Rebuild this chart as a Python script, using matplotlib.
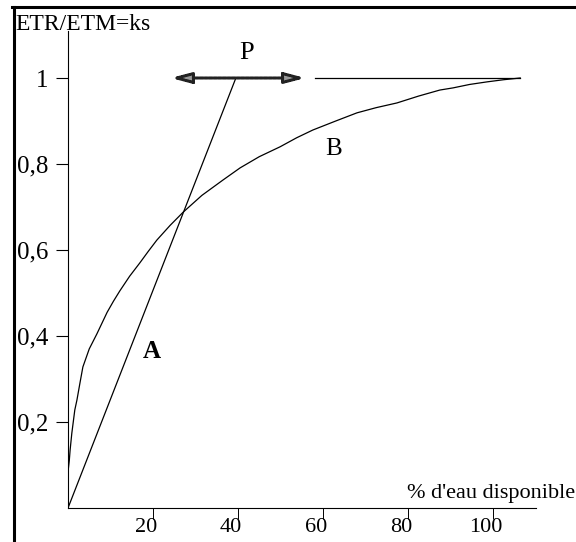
import matplotlib
matplotlib.use("Agg")
import matplotlib.pyplot as plt
from matplotlib.lines import Line2D
from matplotlib.transforms import ScaledTranslation

# courbe B
b_x = [0, 0.3, 0.5, 0.9, 1.6, 2.1, 2.8, 3.5, 5, 6.8, 8, 9.2, 10.7, 12.2, 14.5,
       16.9, 18.9, 20.9, 24, 27.1, 31.5, 36.5, 40.5, 45, 49.9, 53.8, 57.6, 63,
       68, 72.5, 77.4, 82.5, 87.5, 90.6, 94.5, 98.6, 102.5, 106.4]
b_y = [0.084, 0.11, 0.135, 0.174, 0.228, 0.251, 0.29, 0.328, 0.37, 0.405,
       0.43, 0.455, 0.481, 0.505, 0.539, 0.57, 0.597, 0.623, 0.657, 0.688,
       0.727, 0.763, 0.791, 0.817, 0.84, 0.861, 0.879, 0.9, 0.919, 0.931,
       0.942, 0.958, 0.972, 0.977, 0.985, 0.991, 0.996, 1.0]

# droite A
a_x = [0, 39.5]
a_y = [0, 1.0]

# palier ks = 1
pal_x = [58.1, 106.4]
pal_y = [1.0, 1.0]

# fleche P
p_gauche = 24.2
p_droite = 55.8
p_niveau = 1.0

x_ticks = [20, 40, 60, 80, 100]
x_labels = ["20", "40", "60", "80", "100"]
y_ticks = [0.2, 0.4, 0.6, 0.8, 1.0]
y_labels = ["0,2", "0,4", "0,6", "0,8", "1"]

plt.rcParams['font.family'] = ['Liberation Serif', 'DejaVu Serif']

fig = plt.figure(figsize=(5.76, 5.42), dpi=100)
ax = fig.add_axes([68 / 576, 34 / 542, 467.5 / 576, 477.3 / 542])

ax.plot(b_x, b_y, color="black", lw=0.9)
ax.plot(a_x, a_y, color="black", lw=0.9)
ax.plot(pal_x, pal_y, color="black", lw=0.9)

ax.annotate("", xy=(p_gauche, p_niveau), xytext=(p_droite, p_niveau),
            arrowprops=dict(arrowstyle="<|-|>,head_length=1.2,head_width=0.32",
                            lw=2.2, ls=(0, (1, 0.5)), color="#222222",
                            fc="#999999", shrinkA=0, shrinkB=0))

ax.set_xlim(0, 110)
ax.set_ylim(0, 1.11)

for s in ["top", "right"]:
    ax.spines[s].set_visible(False)
for s in ["left", "bottom"]:
    ax.spines[s].set_linewidth(0.8)

ax.set_xticks(x_ticks)
ax.set_xticklabels(x_labels, fontsize=16)
ax.set_yticks(y_ticks)
ax.set_yticklabels(y_labels, fontsize=18)
ax.tick_params(axis="x", direction="out", length=8, width=0.7, pad=-1)
ax.tick_params(axis="y", direction="out", length=9, width=0.8, pad=5)
# les etiquettes de l'axe x sont decalees vers la gauche
decal = ScaledTranslation(-7 / 100, 0, fig.dpi_scale_trans)
for lab in ax.get_xticklabels():
    lab.set_transform(lab.get_transform() + decal)
# la graduation 0,6 est plus pale
ax.yaxis.get_major_ticks()[2].tick1line.set_color("#bbbbbb")

ax.text(42.1, 1.058, "P", fontsize=19, ha="center", va="center")
ax.text(62.4, 0.835, "B", fontsize=18, ha="center", va="center")
ax.text(19.8, 0.363, "A", fontsize=18, fontweight="bold", ha="center", va="center")
ax.text(119.3, 0.012, "% d'eau disponible", fontsize=16, ha="right", va="bottom",
        clip_on=False)

fig.text(15 / 576, 1 - 30 / 542, "ETR/ETM=ks", fontsize=17, ha="left", va="baseline")

# cadre
fig.add_artist(Line2D([13.5 / 576, 13.5 / 576], [0, 1 - 6.5 / 542],
                      transform=fig.transFigure, color="black", lw=2.2))
fig.add_artist(Line2D([12 / 576, 1], [1 - 6.5 / 542, 1 - 6.5 / 542],
                      transform=fig.transFigure, color="black", lw=2.2))

fig.savefig("out.png", dpi=100)
